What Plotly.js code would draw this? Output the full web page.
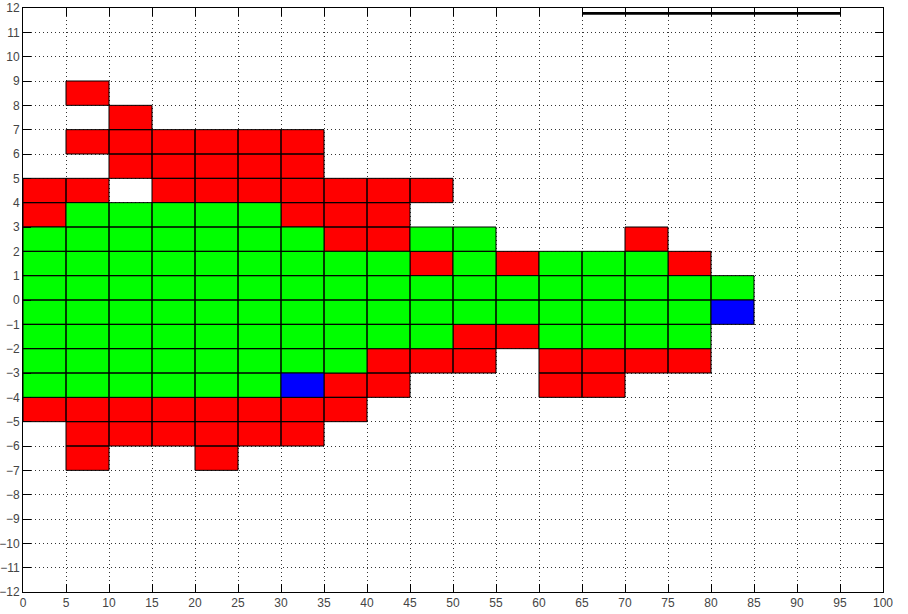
<!DOCTYPE html>
<html>
<head>
<meta charset="utf-8">
<script src="https://cdn.plot.ly/plotly-3.0.1.min.js"></script>
<style>html,body{margin:0;padding:0;background:#fff;}#chart{width:908px;height:614px;}</style>
</head>
<body>
<div id="chart"></div>
<script>
// cell grid: columns start at these x values (width 5), rows start at these y values (height 1)
const colStarts = [0,5,10,15,20,25,30,35,40,45,50,55,60,65,70,75,80];
const rowStarts = [8,7,6,5,4,3,2,1,0,-1,-2,-3,-4,-5,-6,-7];
// 0 = empty, 1 = red, 2 = green, 3 = blue
const row8  = [0,1,0,0,0,0,0,0,0,0,0,0,0,0,0,0,0];
const row7  = [0,0,1,0,0,0,0,0,0,0,0,0,0,0,0,0,0];
const row6  = [0,1,1,1,1,1,1,0,0,0,0,0,0,0,0,0,0];
const row5  = [0,0,1,1,1,1,1,0,0,0,0,0,0,0,0,0,0];
const row4  = [1,1,0,1,1,1,1,1,1,1,0,0,0,0,0,0,0];
const row3  = [1,2,2,2,2,2,1,1,1,0,0,0,0,0,0,0,0];
const row2  = [2,2,2,2,2,2,2,1,1,2,2,0,0,0,1,0,0];
const row1  = [2,2,2,2,2,2,2,2,2,1,2,1,2,2,2,1,0];
const row0  = [2,2,2,2,2,2,2,2,2,2,2,2,2,2,2,2,2];
const rowM1 = [2,2,2,2,2,2,2,2,2,2,2,2,2,2,2,2,3];
const rowM2 = [2,2,2,2,2,2,2,2,2,2,1,1,2,2,2,2,0];
const rowM3 = [2,2,2,2,2,2,2,2,1,1,1,0,1,1,1,1,0];
const rowM4 = [2,2,2,2,2,2,3,1,1,0,0,0,1,1,0,0,0];
const rowM5 = [1,1,1,1,1,1,1,1,0,0,0,0,0,0,0,0,0];
const rowM6 = [0,1,1,1,1,1,1,0,0,0,0,0,0,0,0,0,0];
const rowM7 = [0,1,0,0,1,0,0,0,0,0,0,0,0,0,0,0,0];
const cellRows = [row8,row7,row6,row5,row4,row3,row2,row1,row0,rowM1,rowM2,rowM3,rowM4,rowM5,rowM6,rowM7];
const cellWidth = 5, cellHeight = 1;
const codeColors = {1:'#ff0000', 2:'#00ff00', 3:'#0000ff'};

// black line at top
const topLineX = [65, 95];
const topLineY = [11.78, 11.78];

const traces = [];
[1,2,3].forEach(code => {
  const xs = [], ys = [];
  cellRows.forEach((row, ri) => {
    row.forEach((v, ci) => {
      if (v === code) {
        const x0 = colStarts[ci], y0 = rowStarts[ri];
        xs.push(x0, x0 + cellWidth, x0 + cellWidth, x0, x0, null);
        ys.push(y0, y0, y0 + cellHeight, y0 + cellHeight, y0, null);
      }
    });
  });
  traces.push({
    x: xs, y: ys, type: 'scatter', mode: 'lines', fill: 'toself',
    fillcolor: codeColors[code], line: {color: '#000', width: 1},
    connectgaps: false, hoverinfo: 'skip', showlegend: false
  });
});
traces.push({
  x: topLineX, y: topLineY, type: 'scatter', mode: 'lines',
  line: {color: '#000', width: 2.7}, hoverinfo: 'skip', showlegend: false, cliponaxis: false
});

const axisCommon = {
  showline: true, linecolor: '#000', linewidth: 1, mirror: 'ticks',
  ticks: 'inside', ticklen: 8, tickcolor: '#000', tickwidth: 1,
  showgrid: true, gridcolor: '#333', griddash: '1px,3px', gridwidth: 1,
  zeroline: false, tickfont: {family: 'Liberation Sans, Arial, sans-serif', size: 12, color: '#444'},
  fixedrange: true
};
const layout = {
  width: 908, height: 614,
  margin: {l: 23, r: 25, t: 8, b: 22},
  paper_bgcolor: '#fff', plot_bgcolor: '#fff',
  showlegend: false, hovermode: false,
  xaxis: Object.assign({}, axisCommon, {range: [0, 100], tickmode: 'linear', tick0: 0, dtick: 5, ticklabelstandoff: 0}),
  yaxis: Object.assign({}, axisCommon, {range: [-12, 12], tickmode: 'linear', tick0: -12, dtick: 1, ticklabelstandoff: 0})
};
Plotly.newPlot('chart', traces, layout, {staticPlot: true, displayModeBar: false});
</script>
</body>
</html>
